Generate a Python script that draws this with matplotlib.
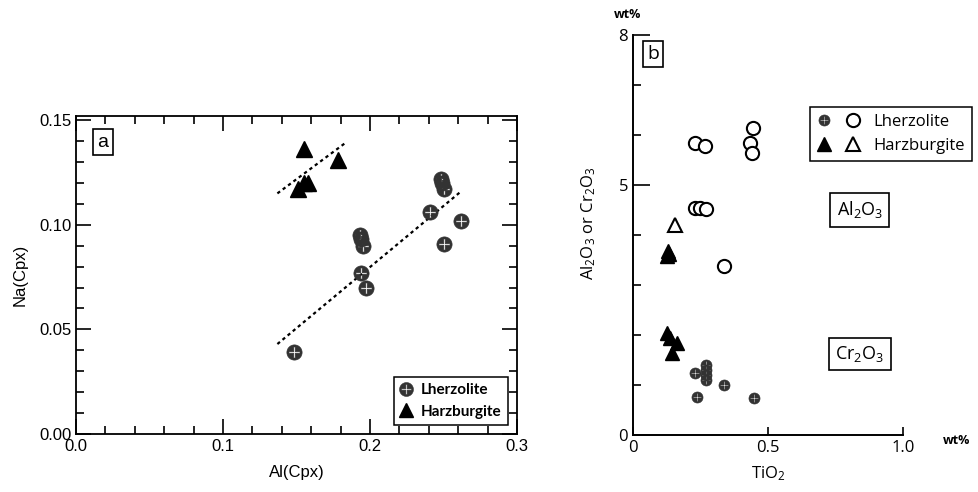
import numpy as np
import matplotlib
matplotlib.use("Agg")
import matplotlib.pyplot as plt
from matplotlib.path import Path
from matplotlib.lines import Line2D
from matplotlib.legend_handler import HandlerTuple

plt.rcParams['font.family'] = ['Liberation Sans', 'DejaVu Sans']
plt.rcParams['mathtext.default'] = 'regular'

# ---------------- data: panel a ----------------
a_lherz_x = [0.148, 0.193, 0.194, 0.195, 0.194, 0.197, 0.241, 0.248, 0.249, 0.250, 0.250, 0.262]
a_lherz_y = [0.039, 0.095, 0.093, 0.090, 0.077, 0.070, 0.106, 0.122, 0.120, 0.117, 0.091, 0.102]
a_harz_x = [0.155, 0.151, 0.155, 0.158, 0.178]
a_harz_y = [0.136, 0.117, 0.120, 0.120, 0.131]
a_lherz_trend_x = [0.137, 0.262]
a_lherz_trend_y = [0.043, 0.116]
a_harz_trend_x = [0.137, 0.183]
a_harz_trend_y = [0.115, 0.139]
a_xticks = [0.0, 0.1, 0.2, 0.3]
a_yticks = [0.00, 0.05, 0.10, 0.15]

# ---------------- data: panel b ----------------
b_lherz_al_x = [0.230, 0.267, 0.444, 0.433, 0.440, 0.230, 0.248, 0.270, 0.337]
b_lherz_al_y = [5.84, 5.78, 6.14, 5.84, 5.64, 4.54, 4.54, 4.52, 3.38]
b_harz_al_x = [0.156]
b_harz_al_y = [4.20]
b_harz_cr_x = [0.128, 0.125, 0.132, 0.126, 0.137, 0.163, 0.144]
b_harz_cr_y = [3.68, 3.58, 3.62, 2.04, 1.94, 1.84, 1.64]
b_lherz_cr_x = [0.230, 0.270, 0.270, 0.270, 0.270, 0.337, 0.237, 0.448]
b_lherz_cr_y = [1.24, 1.40, 1.30, 1.20, 1.10, 1.00, 0.76, 0.74]
b_xticks = [0.0, 0.5, 1.0]
b_xticklabels = ['0', '0.5', '1.0']
b_yticks = [0, 5, 8]

# ---------------- hatched-circle marker (circle with thin cross cut out) ----------------
t = np.linspace(0, 2 * np.pi, 65)
circ = np.column_stack([np.cos(t), np.sin(t)])
w, L = 0.09, 0.72
plus = np.array([(w, -L), (w, -w), (L, -w), (L, w), (w, w), (w, L), (-w, L), (-w, w),
                 (-L, w), (-L, -w), (-w, -w), (-w, -L), (w, -L)])[::-1]
verts = np.vstack([circ, plus])
codes = ([Path.MOVETO] + [Path.LINETO] * (len(circ) - 2) + [Path.CLOSEPOLY] +
         [Path.MOVETO] + [Path.LINETO] * (len(plus) - 2) + [Path.CLOSEPOLY])
hatched = Path(verts, codes)
HC = '#333333'

fig = plt.figure(figsize=(9.79, 4.92), dpi=100)

# ================= panel a =================
axa = fig.add_axes([76 / 979, 1 - 434 / 492, 441 / 979, 318 / 492])
axa.plot(a_lherz_trend_x, a_lherz_trend_y, color='black', lw=1.6, ls=(0, (1.5, 1.5)))
axa.plot(a_harz_trend_x, a_harz_trend_y, color='black', lw=1.6, ls=(0, (1.5, 1.5)))
axa.plot(a_lherz_x, a_lherz_y, ls='none', marker=hatched, ms=11, mfc=HC, mec=HC, mew=0.4)
axa.plot(a_harz_x, a_harz_y, ls='none', marker='^', ms=11, mfc='black', mec='black')
axa.set_xlim(0, 0.3)
axa.set_ylim(0, 0.152)
axa.set_xticks(a_xticks)
axa.set_xticklabels([f'{v:.1f}' for v in a_xticks])
axa.set_yticks(a_yticks)
axa.set_yticklabels([f'{v:.2f}' for v in a_yticks])
axa.xaxis.set_minor_locator(matplotlib.ticker.MultipleLocator(0.02))
axa.yaxis.set_minor_locator(matplotlib.ticker.MultipleLocator(0.01))
axa.tick_params(which='both', direction='in', top=True, right=True, labelsize=12, width=1.2)
axa.tick_params(which='major', length=11)
axa.tick_params(which='minor', length=6)
for s in axa.spines.values():
    s.set_linewidth(1.3)
axa.set_xlabel('Al(Cpx)', fontsize=12, labelpad=8)
axa.set_ylabel('Na(Cpx)', fontsize=12, labelpad=8)
axa.text(0.061, 0.918, 'a', transform=axa.transAxes, ha='center', va='center', fontsize=14,
         bbox=dict(boxstyle='square,pad=0.25', fc='white', ec='black', lw=1.2))
ha = [Line2D([], [], ls='none', marker=hatched, ms=10, mfc=HC, mec=HC, mew=0.4),
      Line2D([], [], ls='none', marker='^', ms=10, mfc='black', mec='black')]
lga = axa.legend(ha, ['Lherzolite', 'Harzburgite'], loc='lower right',
                 frameon=True, fancybox=False, edgecolor='black', framealpha=1,
                 handlelength=0.8, handletextpad=0.6, borderaxespad=0.6,
                 prop={'family': ['Lato', 'DejaVu Sans'], 'weight': 'bold', 'size': 11})
lga.get_frame().set_linewidth(1.1)

# ================= panel b =================
bfont = ['Open Sans', 'DejaVu Sans']
axb = fig.add_axes([633 / 979, 1 - 435 / 492, 270 / 979, 400 / 492])
axb.plot(b_lherz_al_x, b_lherz_al_y, ls='none', marker='o', ms=9.5, mfc='white', mec='black', mew=1.5)
axb.plot(b_harz_al_x, b_harz_al_y, ls='none', marker='^', ms=10, mfc='white', mec='black', mew=1.5)
axb.plot(b_harz_cr_x, b_harz_cr_y, ls='none', marker='^', ms=10, mfc='black', mec='black')
axb.plot(b_lherz_cr_x, b_lherz_cr_y, ls='none', marker=hatched, ms=8, mfc=HC, mec=HC, mew=0.4)
axb.set_xlim(0, 1.0)
axb.set_ylim(0, 8)
axb.spines['top'].set_visible(False)
axb.spines['right'].set_visible(False)
for s in ('left', 'bottom'):
    axb.spines[s].set_linewidth(1.4)
axb.set_xticks(b_xticks)
axb.set_xticklabels(b_xticklabels, family=bfont, fontsize=12)
axb.set_yticks(b_yticks)
axb.set_yticklabels([str(v) for v in b_yticks], family=bfont, fontsize=12)
axb.yaxis.set_minor_locator(matplotlib.ticker.MultipleLocator(1))
axb.tick_params(which='both', direction='in', width=1.2)
axb.tick_params(axis='y', which='major', length=12)
axb.tick_params(axis='y', which='minor', length=6)
axb.tick_params(axis='x', which='major', length=6)
axb.set_xlabel('TiO$_2$', family=bfont, fontsize=12, labelpad=6)
axb.set_ylabel('Al$_2$O$_3$ or Cr$_2$O$_3$', family=bfont, fontsize=12)
axb.yaxis.set_label_coords(-0.13, 0.53)
axb.text(0.074, 0.953, 'b', transform=axb.transAxes, ha='center', va='center', fontsize=14,
         family=bfont, bbox=dict(boxstyle='square,pad=0.2', fc='white', ec='black', lw=1.2))
axb.text(0.84, 0.5625, 'Al$_2$O$_3$', transform=axb.transAxes, ha='center', va='center',
         fontsize=13, family=bfont, bbox=dict(boxstyle='square,pad=0.35', fc='white', ec='black', lw=1.2))
axb.text(0.84, 0.2025, 'Cr$_2$O$_3$', transform=axb.transAxes, ha='center', va='center',
         fontsize=13, family=bfont, bbox=dict(boxstyle='square,pad=0.35', fc='white', ec='black', lw=1.2))
fig.text(628 / 979, 1 - 15 / 492, 'wt%', ha='center', va='center', fontsize=9, family=bfont, weight='bold')
fig.text(957 / 979, 1 - 440 / 492, 'wt%', ha='center', va='center', fontsize=9, family=bfont, weight='bold')

hb = [(Line2D([], [], ls='none', marker=hatched, ms=8, mfc=HC, mec=HC, mew=0.4),
       Line2D([], [], ls='none', marker='o', ms=9.5, mfc='white', mec='black', mew=1.5)),
      (Line2D([], [], ls='none', marker='^', ms=10, mfc='black', mec='black'),
       Line2D([], [], ls='none', marker='^', ms=10, mfc='white', mec='black', mew=1.5))]
lgb = axb.legend(hb, ['Lherzolite', 'Harzburgite'], loc='upper left',
                 bbox_to_anchor=(0.656, 0.82), borderaxespad=0,
                 handler_map={tuple: HandlerTuple(ndivide=None, pad=0.9)},
                 handlelength=2.6, handletextpad=0.8, frameon=True, fancybox=False,
                 edgecolor='black', framealpha=1,
                 prop={'family': bfont, 'size': 12})
lgb.get_frame().set_linewidth(1.1)

fig.savefig('out.png', dpi=100)
